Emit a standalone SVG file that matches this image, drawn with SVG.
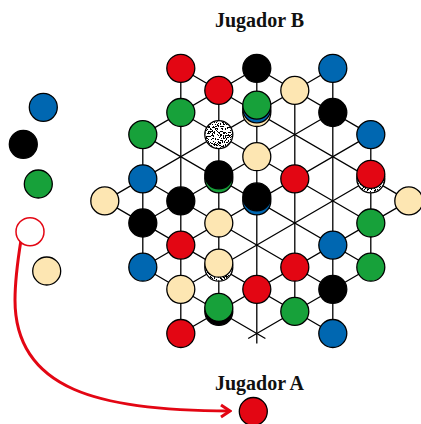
<svg xmlns="http://www.w3.org/2000/svg" width="421" height="424" viewBox="0 0 421 424">
<style>
.ln{stroke:#000;stroke-width:1.3;fill:none;stroke-linecap:butt}
.pc{stroke:#000;stroke-width:1.3}
.r{fill:#e30613}.g{fill:#17a13a}.b{fill:#0067b1}.k{fill:#000}.y{fill:#fde6b2}.w{fill:#fff}
.lbl{font-family:"Liberation Serif","DejaVu Serif",serif;font-weight:bold;font-size:20px;fill:#111;text-anchor:middle}
.arr{stroke:#e30613;stroke-width:3;fill:none}
</style>
<defs>
<filter id="speck" x="0" y="0" width="1" height="1" color-interpolation-filters="sRGB">
<feTurbulence type="fractalNoise" baseFrequency="1.1" numOctaves="2" seed="5" result="t"/>
<feColorMatrix in="t" type="matrix" values="0 0 0 0 0  0 0 0 0 0  0 0 0 0 0  -8 0 0 0 4.1"/>
<feComponentTransfer><feFuncA type="discrete" tableValues="0 1"/></feComponentTransfer>
<feComposite in2="SourceAlpha" operator="in"/>
</filter>
<marker id="chev" viewBox="-11 -8 13 16" refX="0" refY="0" markerWidth="13" markerHeight="16" markerUnits="userSpaceOnUse" orient="auto">
<path d="M-9,-6 L0,0 L-9,6" fill="none" stroke="#e30613" stroke-width="3"/>
</marker>
</defs>
<rect width="421" height="424" fill="#fff"/>
<g id="board-lines" class="ln">
<path d="M142.8,134.6V267.2 M180.8,68.3V333.5 M218.8,90.4V311.4 M256.8,68.3V343.5 M294.8,90.4V311.4 M332.8,68.3V333.5 M370.8,134.6V267.2"/>
<path d="M256.8,68.3L370.8,134.6 M180.8,68.3L408.8,200.9 M180.8,112.5L370.8,223 M142.8,134.6L370.8,267.2 M142.8,178.8L332.8,289.3 M104.8,200.9L332.8,333.5 M142.8,267.2L265.4,338.5"/>
<path d="M142.8,134.6L256.8,68.3 M104.8,200.9L332.8,68.3 M142.8,223L332.8,112.5 M142.8,267.2L370.8,134.6 M180.8,289.3L370.8,178.8 M180.8,333.5L408.8,200.9 M248.2,338.5L370.8,267.2"/>
</g>
<g id="pieces-board">
<g id="c0r6"><circle class="pc y" cx="104.8" cy="200.9" r="14"/></g>
<g id="c1r3"><circle class="pc g" cx="142.8" cy="134.6" r="14"/></g>
<g id="c1r5"><circle class="pc b" cx="142.8" cy="178.8" r="14"/></g>
<g id="c1r7"><circle class="pc k" cx="142.8" cy="223" r="14"/></g>
<g id="c1r9"><circle class="pc b" cx="142.8" cy="267.2" r="14"/></g>
<g id="c2r0"><circle class="pc r" cx="180.8" cy="68.3" r="14"/></g>
<g id="c2r2"><circle class="pc g" cx="180.8" cy="112.5" r="14"/></g>
<g id="c2r6"><circle class="pc k" cx="180.8" cy="200.9" r="14"/></g>
<g id="c2r8"><circle class="pc r" cx="180.8" cy="245.1" r="14"/></g>
<g id="c2r10"><circle class="pc y" cx="180.8" cy="289.3" r="14"/></g>
<g id="c2r12"><circle class="pc r" cx="180.8" cy="333.5" r="14"/></g>
<g id="c3r1"><circle class="pc r" cx="218.8" cy="90.4" r="14"/></g>
<g id="c3r3"><circle class="pc w" cx="218.8" cy="134.6" r="14"/><circle class="k" cx="218.8" cy="134.6" r="13.4" filter="url(#speck)"/></g>
<g id="c3r5"><circle class="pc g" cx="218.8" cy="178.8" r="14"/><circle class="pc k" cx="218.8" cy="174.8" r="14"/></g>
<g id="c3r7"><circle class="pc y" cx="218.8" cy="223" r="14"/></g>
<g id="c3r9"><circle class="pc w" cx="218.8" cy="267.2" r="14"/><circle class="k" cx="218.8" cy="267.2" r="13.4" filter="url(#speck)"/><circle class="pc y" cx="218.8" cy="263.2" r="14"/></g>
<g id="c3r11"><circle class="pc k" cx="218.8" cy="311.4" r="14"/><circle class="pc g" cx="218.8" cy="307.4" r="14"/></g>
<g id="c4r0"><circle class="pc k" cx="256.8" cy="68.3" r="14"/></g>
<g id="c4r2"><circle class="pc y" cx="256.8" cy="112.5" r="14"/><circle class="pc b" cx="256.8" cy="108.8" r="14"/><circle class="pc g" cx="256.8" cy="105.1" r="14"/></g>
<g id="c4r4"><circle class="pc y" cx="256.8" cy="156.7" r="14"/></g>
<g id="c4r6"><circle class="pc b" cx="256.8" cy="200.9" r="14"/><circle class="pc k" cx="256.8" cy="196.9" r="14"/></g>
<g id="c4r10"><circle class="pc r" cx="256.8" cy="289.3" r="14"/></g>
<g id="c5r1"><circle class="pc y" cx="294.8" cy="90.4" r="14"/></g>
<g id="c5r5"><circle class="pc r" cx="294.8" cy="178.8" r="14"/></g>
<g id="c5r9"><circle class="pc r" cx="294.8" cy="267.2" r="14"/></g>
<g id="c5r11"><circle class="pc g" cx="294.8" cy="311.4" r="14"/></g>
<g id="c6r0"><circle class="pc b" cx="332.8" cy="68.3" r="14"/></g>
<g id="c6r2"><circle class="pc k" cx="332.8" cy="112.5" r="14"/></g>
<g id="c6r8"><circle class="pc b" cx="332.8" cy="245.1" r="14"/></g>
<g id="c6r10"><circle class="pc k" cx="332.8" cy="289.3" r="14"/></g>
<g id="c6r12"><circle class="pc b" cx="332.8" cy="333.5" r="14"/></g>
<g id="c7r3"><circle class="pc b" cx="370.8" cy="134.6" r="14"/></g>
<g id="c7r5"><circle class="pc w" cx="370.8" cy="178.8" r="14"/><circle class="k" cx="370.8" cy="178.8" r="13.4" filter="url(#speck)"/><circle class="pc r" cx="370.8" cy="174.3" r="14"/></g>
<g id="c7r7"><circle class="pc g" cx="370.8" cy="223" r="14"/></g>
<g id="c7r9"><circle class="pc g" cx="370.8" cy="267.2" r="14"/></g>
<g id="c8r6"><circle class="pc y" cx="408.8" cy="200.9" r="14"/></g>
</g>
<g id="connectors">
<path class="arr" d="M21,240 C17,265 15,282 15,300 C15,390 100,411 230,411" marker-end="url(#chev)"/>
</g>
<g id="reserve">
<g id="res-blue"><circle class="pc b" cx="43.3" cy="107.3" r="14"/></g>
<g id="res-black"><circle class="pc k" cx="23.3" cy="144.3" r="14"/></g>
<g id="res-green"><circle class="pc g" cx="38.3" cy="184" r="14"/></g>
<g id="res-red-empty"><circle cx="30" cy="231.7" r="14" fill="#fff" stroke="#e30613" stroke-width="1.5"/></g>
<g id="res-beige"><circle class="pc y" cx="46.7" cy="271" r="14"/></g>
</g>
<g id="player-a-piece"><circle class="pc r" cx="253.3" cy="411.5" r="14"/></g>
<g id="labels">
<text class="lbl" x="259.5" y="26.5">Jugador B</text>
<text class="lbl" x="259.5" y="390">Jugador A</text>
</g>
</svg>
